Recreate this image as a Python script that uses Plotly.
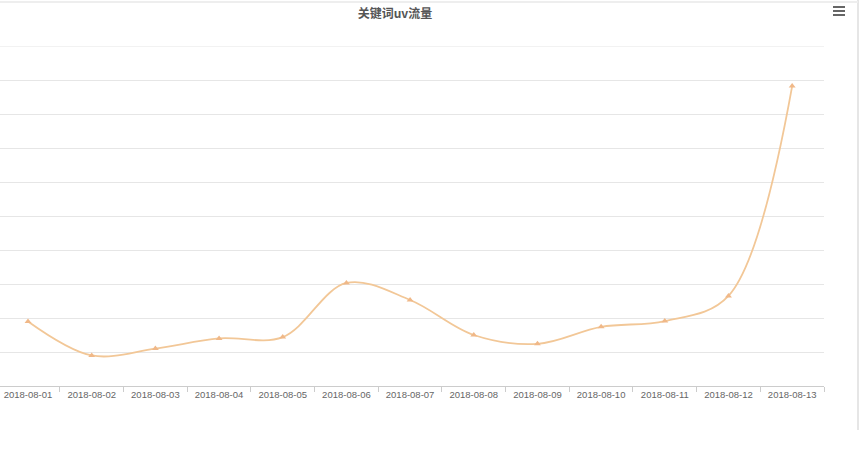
import plotly.graph_objects as go

categories = ["2018-08-01", "2018-08-02", "2018-08-03", "2018-08-04", "2018-08-05",
              "2018-08-06", "2018-08-07", "2018-08-08", "2018-08-09", "2018-08-10",
              "2018-08-11", "2018-08-12", "2018-08-13"]
uv_values = [19, 9, 11, 14, 14.4, 30.3, 25.3, 15, 12.4, 17.4, 19.1, 26.5, 88.2]
title_text = "关键词uv流量"
y_max = 100

W, H = 865, 467
L, R, T, B = 0, 41, 46, 81
pw, ph = W - L - R, H - T - B

def px_x(x):
    return (x - L) / pw

def px_y(y):
    return (H - B - y) / ph

fig = go.Figure()
fig.add_trace(go.Scatter(
    x=categories, y=uv_values, mode="lines+markers",
    line=dict(color="#f2c797", width=1.8, shape="spline", smoothing=1),
    marker=dict(symbol="triangle-up", size=6, color="#f0b888"),
    hoverinfo="x+y", showlegend=False,
))

shapes = []
# top gridline at the range maximum
shapes.append(dict(type="line", xref="paper", yref="y", x0=0, x1=1, y0=y_max, y1=y_max,
                   line=dict(color="#e6e6e6", width=1), layer="below"))
for yy in (7, 11, 15):
    shapes.append(dict(type="line", xref="paper", yref="paper",
                       x0=px_x(833), x1=px_x(845), y0=px_y(yy), y1=px_y(yy),
                       line=dict(color="#666666", width=2)))
shapes.append(dict(type="line", xref="paper", yref="paper",
                   x0=px_x(858), x1=px_x(858), y0=px_y(0), y1=px_y(430),
                   line=dict(color="#e6e6e6", width=2)))
shapes.append(dict(type="line", xref="paper", yref="paper",
                   x0=px_x(0), x1=px_x(858), y0=px_y(2), y1=px_y(2),
                   line=dict(color="#eeeeee", width=2)))

fig.update_layout(
    width=W, height=H,
    margin=dict(l=L, r=R, t=T, b=B),
    paper_bgcolor="white", plot_bgcolor="white",
    title=dict(text="<b>" + title_text + "</b>", x=395 / W, xref="container", xanchor="center",
               y=1 - 14 / H, yref="container", yanchor="middle",
               font=dict(family="Noto Sans CJK SC", size=12, color="#555555")),
    xaxis=dict(type="category", range=[-0.44, 12.5], tickson="boundaries",
               ticks="outside", ticklen=5, tickcolor="#cccccc",
               showline=True, linecolor="#cccccc", linewidth=1,
               showgrid=False, tickfont=dict(family="Liberation Sans", size=9.5, color="#666666")),
    yaxis=dict(range=[0, y_max], tickvals=[10, 20, 30, 40, 50, 60, 70, 80, 90],
               showticklabels=False, showgrid=True,
               gridcolor="#e6e6e6", zeroline=False, showline=False, ticks=""),
    shapes=shapes,
    showlegend=False,
)

fig.write_html("out.html", config={"displayModeBar": False},
               post_script="document.body.style.margin='0';document.body.style.padding='0';")
